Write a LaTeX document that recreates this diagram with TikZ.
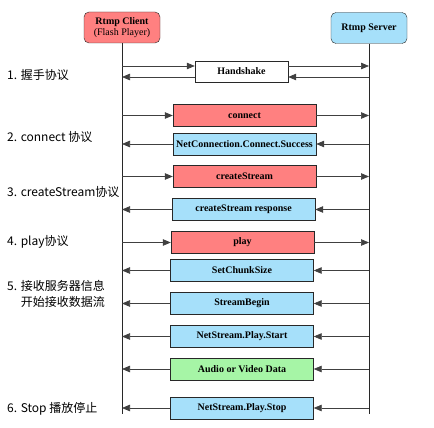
\documentclass[tikz,border=0pt]{standalone}
\usepackage{fontspec}
\setmainfont{Liberation Serif}
\newfontfamily\cjk{Noto Sans CJK SC}
\usetikzlibrary{arrows.meta,positioning}
\definecolor{clientcolor}{RGB}{255,128,128}
\definecolor{servercolor}{RGB}{166,224,250}
\definecolor{datacolor}{RGB}{166,245,166}
\definecolor{linecolor}{RGB}{40,40,40}

\begin{document}
\begin{tikzpicture}[x=1pt, y=-1pt,
    actor/.style={draw=linecolor, rounded corners=5pt, minimum width=76pt, minimum height=31pt, inner sep=1pt, align=center, font=\fontsize{10}{11}\selectfont},
    msgbox/.style={draw=linecolor, minimum width=143pt, minimum height=22pt, inner sep=1pt, font=\fontsize{10}{12}\selectfont\bfseries},
    lifeline/.style={linecolor, line width=0.9pt},
    msg/.style={black!75, line width=0.7pt, -{Triangle[length=8pt,width=6.5pt]}},
    phase/.style={anchor=west, inner sep=0pt, align=left, font=\cjk\fontsize{12}{16}\selectfont},
]
    \useasboundingbox (0,0) rectangle (434,428);

    % Actors
    \node[actor, fill=clientcolor] (client) at (122, 27.5) {\textbf{Rtmp Client}\\(Flash Player)};
    \node[actor, fill=servercolor] (server) at (369, 28) {\textbf{Rtmp Server}};
    \coordinate (clientend) at (122, 414);
    \coordinate (serverend) at (369, 414);
    \draw[lifeline] (client) -- (clientend);
    \draw[lifeline] (server) -- (serverend);

    % Messages
    \node[msgbox, fill=white, minimum width=93pt, minimum height=21pt] (handshake) at (241.5, 71.5) {Handshake};
    \node[msgbox, fill=clientcolor] (connect) at (244.5, 115.5) {connect};
    \node[msgbox, fill=servercolor] (success) at (244.5, 144) {NetConnection.Connect.Success};
    \node[msgbox, fill=clientcolor] (create) at (244.5, 176.5) {createStream};
    \node[msgbox, fill=servercolor] (response) at (243.5, 209.5) {createStream response};
    \node[msgbox, fill=clientcolor] (play) at (242.5, 242.5) {play};
    \node[msgbox, fill=servercolor] (chunk) at (242, 270.5) {SetChunkSize};
    \node[msgbox, fill=servercolor] (begin) at (242, 303.5) {StreamBegin};
    \node[msgbox, fill=servercolor] (start) at (242, 336.5) {NetStream.Play.Start};
    \node[msgbox, fill=datacolor] (data) at (242, 369) {Audio or Video Data};
    \node[msgbox, fill=servercolor] (stop) at (242, 408) {NetStream.Play.Stop};

    % Phases
    \node[phase] (phase1) at (7, 75) {1. 握手协议};
    \node[phase] (phase2) at (7, 137) {2. connect 协议};
    \node[phase] (phase3) at (7, 192) {3. createStream协议};
    \node[phase] (phase4) at (7, 242) {4. play协议};
    \node[phase] (phase5) at (7, 294) {5. 接收服务器信息\\\phantom{5. }开始接收数据流};
    \node[phase] (phase6) at (7, 409) {6. Stop 播放停止};

    % Handshake arrows
    \coordinate (hsoutw) at ([yshift=5.5pt]handshake.west);
    \coordinate (hsoute) at ([yshift=5.5pt]handshake.east);
    \coordinate (hsinw) at ([yshift=-5.5pt]handshake.west);
    \coordinate (hsine) at ([yshift=-5.5pt]handshake.east);
    \draw[msg] (client |- hsoutw) -- (hsoutw);
    \draw[msg] (hsoute) -- (server |- hsoute);
    \draw[msg] (server |- hsine) -- (hsine);
    \draw[msg] (hsinw) -- (client |- hsinw);

    % Client to server
    \draw[msg] (client |- connect) -- (connect.west);
    \draw[msg] (connect.east) -- (server |- connect);
    \draw[msg] (client |- create) -- (create.west);
    \draw[msg] (create.east) -- (server |- create);
    \draw[msg] (client |- play) -- (play.west);
    \draw[msg] (play.east) -- (server |- play);

    % Server to client
    \draw[msg] (server |- success) -- (success.east);
    \draw[msg] (success.west) -- (client |- success);
    \draw[msg] (server |- response) -- (response.east);
    \draw[msg] (response.west) -- (client |- response);
    \draw[msg] (server |- chunk) -- (chunk.east);
    \draw[msg] (chunk.west) -- (client |- chunk);
    \draw[msg] (server |- begin) -- (begin.east);
    \draw[msg] (begin.west) -- (client |- begin);
    \draw[msg] (server |- start) -- (start.east);
    \draw[msg] (start.west) -- (client |- start);
    \draw[msg] (server |- data) -- (data.east);
    \draw[msg] (data.west) -- (client |- data);
    \draw[msg] (server |- stop) -- (stop.east);
    \draw[msg] (stop.west) -- (client |- stop);

\end{tikzpicture}
\end{document}
